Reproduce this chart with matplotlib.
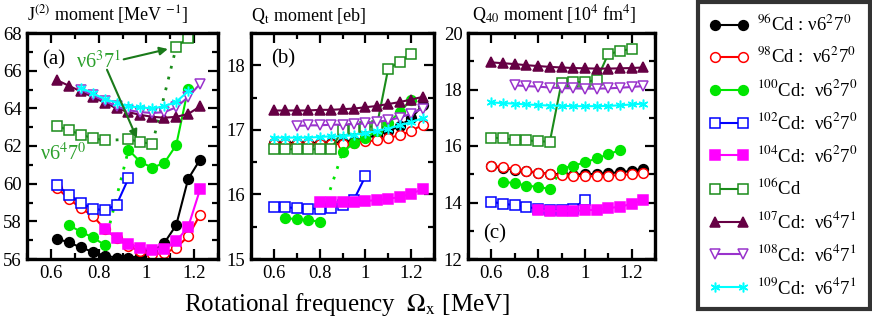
import matplotlib
matplotlib.use("Agg")
import matplotlib.pyplot as plt
from matplotlib.lines import Line2D
from matplotlib.ticker import MultipleLocator, FuncFormatter

plt.rcParams['font.family'] = ['Liberation Serif', 'DejaVu Serif']
plt.rcParams['mathtext.fontset'] = 'stix'

# ---------------- data ----------------
# J(2) moment (panel a), frequencies at mid points
om_j = [0.625, 0.675, 0.725, 0.775, 0.825, 0.875, 0.925, 0.975, 1.025, 1.075, 1.125, 1.175, 1.225]
j96 = [57.08, 56.88, 56.62, 56.38, 56.18, 56.07, 56.04, 56.18, 56.4, 56.85, 57.8, 60.25, 61.28]
j98 = [59.78, 59.2, 58.7, 58.3, 57.6, 57.1, 56.7, 56.4, 56.28, 56.3, 56.6, 57.2, 58.35]
om_j100a = [0.675, 0.725, 0.775, 0.825]
j100a = [57.8, 57.45, 57.15, 56.75]
om_j100b = [0.925, 0.975, 1.025, 1.075, 1.125, 1.175]
j100b = [61.8, 61.15, 60.85, 61.1, 62.05, 65.05]
om_j102 = [0.625, 0.675, 0.725, 0.775, 0.825, 0.875, 0.925]
j102 = [59.92, 59.42, 58.98, 58.68, 58.58, 58.88, 60.28]
om_j104 = [0.825, 0.875, 0.925, 0.975, 1.025, 1.075, 1.125, 1.175, 1.225]
j104 = [57.58, 57.12, 56.8, 56.6, 56.5, 56.55, 56.95, 57.7, 59.7]
om_j106a = [0.625, 0.675, 0.725, 0.775, 0.825]
j106a = [63.06, 62.85, 62.6, 62.42, 62.3]
om_j106b = [0.925, 0.975, 1.025]
j106b = [62.35, 62.22, 62.1]
om_j106c = [1.125, 1.175]
j106c = [67.25, 67.75]
j107 = [65.5, 65.2, 64.9, 64.6, 64.3, 64.0, 63.8, 63.65, 63.55, 63.5, 63.55, 63.7, 64.1]
om_j108 = [0.725, 0.775, 0.825, 0.875, 0.925, 0.975, 1.025, 1.075, 1.125, 1.175, 1.225]
j108 = [65.0, 64.7, 64.4, 64.1, 63.9, 63.8, 63.75, 63.8, 64.05, 64.6, 65.3]
om_j109 = [0.725, 0.775, 0.825, 0.875, 0.925, 0.975, 1.025, 1.075, 1.125, 1.175]
j109 = [65.1, 64.8, 64.5, 64.3, 64.1, 64.05, 64.0, 64.1, 64.35, 64.9]

# Qt moment (panel b) and Q40 moment (panel c)
om = [0.6, 0.65, 0.7, 0.75, 0.8, 0.85, 0.9, 0.95, 1.0, 1.05, 1.1, 1.15, 1.2, 1.25]
om_100a = [0.65, 0.7, 0.75, 0.8]
om_100b = [0.9, 0.95, 1.0, 1.05, 1.1, 1.15, 1.2]
om_102 = [0.6, 0.65, 0.7, 0.75, 0.8, 0.85, 0.9, 0.95, 1.0]
om_104 = [0.8, 0.85, 0.9, 0.95, 1.0, 1.05, 1.1, 1.15, 1.2, 1.25]
om_106 = [0.6, 0.65, 0.7, 0.75, 0.8, 0.85, 0.9, 0.95, 1.0, 1.05, 1.1, 1.15, 1.2]
om_108 = [0.7, 0.75, 0.8, 0.85, 0.9, 0.95, 1.0, 1.05, 1.1, 1.15, 1.2, 1.25]

q96 = [16.8, 16.8, 16.8, 16.8, 16.8, 16.8, 16.81, 16.83, 16.87, 16.92, 16.98, 17.06, 17.18, 17.38]
q98 = [16.78, 16.78, 16.78, 16.78, 16.78, 16.78, 16.78, 16.8, 16.82, 16.84, 16.87, 16.92, 16.98, 17.08]
q100a = [15.63, 15.62, 15.6, 15.58]
q100b = [16.65, 16.8, 16.88, 16.98, 17.1, 17.28, 17.46]
q102 = [15.81, 15.8, 15.79, 15.78, 15.78, 15.79, 15.83, 15.92, 16.28]
q104 = [15.88, 15.88, 15.88, 15.89, 15.9, 15.91, 15.93, 15.96, 16.01, 16.08]
q106 = [16.7, 16.7, 16.7, 16.7, 16.7, 16.7, 17.0, 17.02, 17.04, 17.06, 17.95, 18.05, 18.18]
q107 = [17.3, 17.3, 17.3, 17.3, 17.31, 17.31, 17.32, 17.33, 17.35, 17.37, 17.4, 17.43, 17.47, 17.51]
q108 = [17.06, 17.07, 17.07, 17.08, 17.08, 17.09, 17.1, 17.12, 17.15, 17.19, 17.25, 17.33]
q109 = [16.88, 16.88, 16.88, 16.88, 16.89, 16.9, 16.9, 16.92, 16.95, 16.98, 17.02, 17.07, 17.12, 17.18]

om_c100a = [0.65, 0.7, 0.75, 0.8, 0.85]
om_c100b = [0.9, 0.95, 1.0, 1.05, 1.1, 1.15]
c96 = [15.28, 15.22, 15.16, 15.1, 15.05, 15.02, 15.0, 14.99, 15.0, 15.01, 15.04, 15.07, 15.12, 15.2]
c98 = [15.3, 15.25, 15.18, 15.12, 15.06, 15.01, 14.96, 14.95, 14.93, 14.93, 14.95, 14.97, 15.0, 15.05]
c100a = [14.74, 14.68, 14.6, 14.55, 14.48]
c100b = [15.2, 15.3, 15.42, 15.56, 15.7, 15.86]
c102 = [14.02, 13.96, 13.9, 13.84, 13.78, 13.73, 13.72, 13.78, 14.1]
c104 = [13.72, 13.7, 13.7, 13.7, 13.72, 13.75, 13.8, 13.85, 13.95, 14.1]
c106 = [16.3, 16.27, 16.23, 16.2, 16.17, 16.15, 18.24, 18.25, 18.28, 18.33, 19.26, 19.35, 19.45]
c107 = [18.96, 18.93, 18.9, 18.86, 18.83, 18.8, 18.78, 18.76, 18.75, 18.74, 18.74, 18.75, 18.76, 18.78]
c108 = [18.15, 18.12, 18.1, 18.07, 18.05, 18.04, 18.03, 18.03, 18.04, 18.06, 18.09, 18.12]
c109 = [17.54, 17.52, 17.5, 17.47, 17.45, 17.43, 17.42, 17.41, 17.41, 17.41, 17.42, 17.44, 17.47, 17.5]

legend_labels = [r"$^{96}$Cd : ν6$^{2}$7$^{0}$", r"$^{98}$Cd :  ν6$^{2}$7$^{0}$",
                 r"$^{100}$Cd:  ν6$^{2}$7$^{0}$", r"$^{102}$Cd:  ν6$^{2}$7$^{0}$",
                 r"$^{104}$Cd:  ν6$^{2}$7$^{0}$", r"$^{106}$Cd",
                 r"$^{107}$Cd:  ν6$^{4}$7$^{1}$", r"$^{108}$Cd:  ν6$^{4}$7$^{1}$",
                 r"$^{109}$Cd:  ν6$^{4}$7$^{1}$"]

# ---------------- styles ----------------
C96, C98, C100, C102, C104 = 'black', '#ff0000', '#00e600', '#0000ff', '#ff00ff'
C106, C107, C108, C109 = '#1a8c1a', '#660044', '#9933cc', '#00ffff'
MS = 7
LW = 1.5
st = {
    96: dict(color=C96, marker='o', mfc=C96, mec=C96),
    98: dict(color=C98, marker='o', mfc='white', mec=C98),
    100: dict(color=C100, marker='o', mfc=C100, mec=C100),
    102: dict(color=C102, marker='s', mfc='white', mec=C102),
    104: dict(color=C104, marker='s', mfc=C104, mec=C104),
    106: dict(color=C106, marker='s', mfc='white', mec=C106),
    107: dict(color=C107, marker='^', mfc=C107, mec=C107),
    108: dict(color=C108, marker='v', mfc='white', mec=C108),
    109: dict(color=C109, marker=(6, 2, 0), mfc=C109, mec=C109),
}


def p(ax, x, y, k, **kw):
    s = dict(st[k])
    ax.plot(x, y, lw=LW, ms=MS, mew=1.1, **s, **kw)


def dotted(ax, x, y, color):
    ax.plot(x, y, ls=(0, (1, 3)), lw=2, color=color)


W, H = 872, 326
fig = plt.figure(figsize=(W / 100, H / 100), dpi=100)


def mkax(l, r, t, b):
    return fig.add_axes([l / W, 1 - b / H, (r - l) / W, (b - t) / H])


axa = mkax(27, 218, 33, 259)
axb = mkax(251, 434, 33, 259)
axc = mkax(468, 655, 33, 259)

fmt = FuncFormatter(lambda v, pos: ('%g' % v))
for ax in (axa, axb, axc):
    ax.set_xlim(0.5, 1.3)
    ax.xaxis.set_major_locator(MultipleLocator(0.2))
    ax.xaxis.set_minor_locator(MultipleLocator(0.1))
    ax.xaxis.set_major_formatter(fmt)
    ax.tick_params(which='both', direction='in', top=True, right=True, width=1.6, labelsize=13.5)
    ax.tick_params(which='major', length=7, pad=4)
    ax.tick_params(which='minor', length=4)
    for sp in ax.spines.values():
        sp.set_linewidth(2.4)

# panel a
axa.set_ylim(56, 68)
axa.yaxis.set_major_locator(MultipleLocator(2))
axa.yaxis.set_minor_locator(MultipleLocator(1))
dotted(axa, [om_j100a[-1], om_j100b[0]], [j100a[-1], j100b[0]], C100)
dotted(axa, [om_j106a[-1], om_j106b[0]], [j106a[-1], j106b[0]], C106)
dotted(axa, [om_j106b[-1], om_j106c[0]], [j106b[-1], j106c[0]], C106)
p(axa, om_j, j96, 96)
p(axa, om_j, j98, 98)
p(axa, om_j100a, j100a, 100)
p(axa, om_j100b, j100b, 100)
p(axa, om_j102, j102, 102)
p(axa, om_j104, j104, 104)
p(axa, om_j106a, j106a, 106)
p(axa, om_j106b, j106b, 106)
p(axa, om_j106c, j106c, 106)
p(axa, om_j, j107, 107)
p(axa, om_j108, j108, 108)
p(axa, om_j109, j109, 109)
axa.text(0.565, 66.6, '(a)', fontsize=15, va='center')
TG = '#2ca02c'
axa.text(0.80, 66.5, r"ν6$^{3}$7$^{1}$", color=TG, fontsize=14.5, ha='center', va='center')
axa.text(0.65, 61.55, r"ν6$^{4}$7$^{0}$", color=TG, fontsize=14.5, ha='center', va='center')
arr = dict(arrowstyle='-|>', color='#1a7a1a', lw=1.5, mutation_scale=12, shrinkA=0, shrinkB=0)
axa.annotate('', xy=(1.09, 67.15), xytext=(0.905, 66.6), arrowprops=arr)
axa.annotate('', xy=(0.96, 62.42), xytext=(0.835, 66.05), arrowprops=arr)
axa.text(0.0, 1.03, r"J$^{(2)}$ moment [MeV $^{-1}$]", transform=axa.transAxes, fontsize=13, ha='left', va='bottom')

# panel b
axb.set_ylim(15, 18.5)
axb.yaxis.set_major_locator(MultipleLocator(1))
axb.yaxis.set_minor_locator(MultipleLocator(0.5))
dotted(axb, [om_100a[-1], om_100b[0]], [q100a[-1], q100b[0]], C100)
p(axb, om, q96, 96)
p(axb, om, q98, 98)
p(axb, om_100a, q100a, 100)
p(axb, om_100b, q100b, 100)
p(axb, om_102, q102, 102)
p(axb, om_104, q104, 104)
p(axb, om_106, q106, 106)
p(axb, om, q107, 107)
p(axb, om_108, q108, 108)
p(axb, om, q109, 109)
axb.text(0.59, 18.1, '(b)', fontsize=15, va='center')
axb.text(0.0, 1.03, r"Q$_{\mathrm{t}}$ moment [eb]", transform=axb.transAxes, fontsize=13, ha='left', va='bottom')

# panel c
axc.set_ylim(12, 20)
axc.yaxis.set_major_locator(MultipleLocator(2))
axc.yaxis.set_minor_locator(MultipleLocator(1))
dotted(axc, [om_c100a[-1], om_c100b[0]], [c100a[-1], c100b[0]], C100)
p(axc, om, c96, 96)
p(axc, om, c98, 98)
p(axc, om_c100a, c100a, 100)
p(axc, om_c100b, c100b, 100)
p(axc, om_102, c102, 102)
p(axc, om_104, c104, 104)
p(axc, om_106, c106, 106)
p(axc, om, c107, 107)
p(axc, om_108, c108, 108)
p(axc, om, c109, 109)
axc.text(0.565, 12.9, '(c)', fontsize=15, va='center')
axc.text(0.02, 1.03, r"Q$_{40}$ moment [10$^{4}$ fm$^{4}$]", transform=axc.transAxes, fontsize=13, ha='left', va='bottom')

fig.text(347 / W, 1 - 305 / H, r"Rotational frequency  $\Omega_{\rm x}$ [MeV]", fontsize=18, ha='center', va='center')

# legend
handles = []
for k in (96, 98, 100, 102, 104, 106, 107, 108, 109):
    handles.append(Line2D([], [], lw=LW, ms=MS, mew=1.1, **st[k]))
leg = fig.legend(handles, legend_labels, loc='upper left', bbox_to_anchor=(698 / W, 1 - 2 / H),
                 fontsize=13.5, frameon=True, fancybox=False, edgecolor='black', handlelength=2.1,
                 labelspacing=0.63, borderpad=0.62, handletextpad=0.45, numpoints=2, borderaxespad=0)
leg.get_frame().set_linewidth(3)

fig.savefig('out.png', dpi=100)
